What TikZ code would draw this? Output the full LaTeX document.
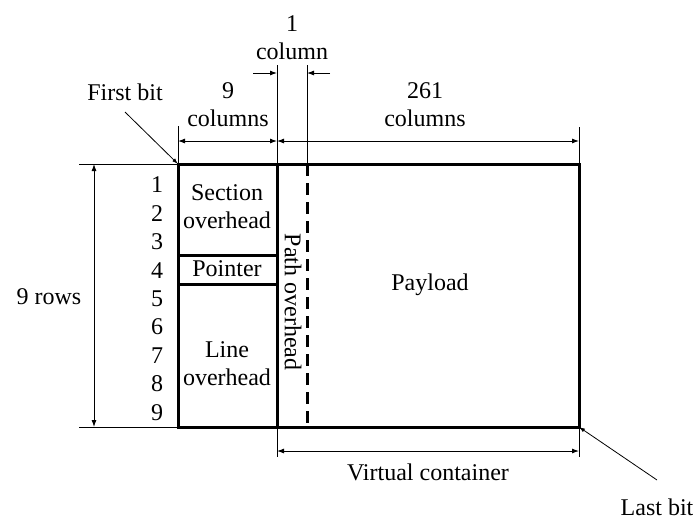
\documentclass[tikz,border=0pt]{standalone}
\usepackage{fontspec}
\setmainfont{Liberation Serif}
\usetikzlibrary{arrows.meta}
\begin{document}
\begin{tikzpicture}[x=1pt,y=-1pt,
 thickline/.style={line width=3pt},
 thinline/.style={line width=0.9pt},
 tip/.style={line width=0.9pt,-{Latex[length=7pt,width=5pt]}},
 dim/.style={line width=0.9pt,{Latex[length=7pt,width=5pt]}-{Latex[length=7pt,width=5pt]}},
 lbl/.style={font=\fontsize{24}{28}\selectfont,align=center,inner sep=0pt}]
\useasboundingbox (0,0) rectangle (693,520);
% frame coordinates
\coordinate (tl) at (178,164);
\coordinate (tr) at (579,164);
\coordinate (bl) at (178,427);
\coordinate (br) at (579,427);
\coordinate (mt) at (277,164);
\coordinate (mb) at (277,427);
\coordinate (dt) at (307,164);
\coordinate (db) at (307,427);
\coordinate (p1l) at (178,255);
\coordinate (p1r) at (277,255);
\coordinate (p2l) at (178,284);
\coordinate (p2r) at (277,284);
% extension line ends
\coordinate (etl) at (79,164);
\coordinate (ebl) at (79,427);
\coordinate (e178) at (178,126);
\coordinate (e277t) at (277,65);
\coordinate (e307t) at (307,65);
\coordinate (e579t) at (579,127);
\coordinate (e277b) at (277,457);
\coordinate (e579b) at (579,457);
% extension lines
\draw[thinline] (etl) -- (tl);
\draw[thinline] (ebl) -- (bl);
\draw[thinline] (e178) -- (tl);
\draw[thinline] (e277t) -- (mt);
\draw[thinline] (e307t) -- (dt);
\draw[thinline] (e579t) -- (tr);
\draw[thinline] (mb) -- (e277b);
\draw[thinline] (br) -- (e579b);
% frame
\draw[thickline] (tl) rectangle (br);
\draw[thickline] (mt) -- (mb);
\draw[thickline] (p1l) -- (p1r);
\draw[thickline] (p2l) -- (p2r);
\draw[thickline,dash pattern=on 12pt off 7pt] (dt) -- (db);
% dimension arrows
\coordinate (d9a) at (178,141);
\coordinate (d9b) at (277,141);
\coordinate (d261a) at (277,141);
\coordinate (d261b) at (579,141);
\coordinate (c1a) at (253,73);
\coordinate (c1b) at (277,73);
\coordinate (c1c) at (330,73);
\coordinate (c1d) at (307,73);
\coordinate (vca) at (277,451);
\coordinate (vcb) at (579,451);
\coordinate (r9a) at (94,164);
\coordinate (r9b) at (94,427);
\draw[dim] (d9a) -- (d9b);
\draw[dim] (d261a) -- (d261b);
\draw[tip] (c1a) -- (c1b);
\draw[tip] (c1c) -- (c1d);
\draw[dim] (vca) -- (vcb);
\draw[dim] (r9a) -- (r9b);
% labels
\node[lbl] (onecol) at (292,38) {1\\column};
\node[lbl] (ninecol) at (228,105) {9\\columns};
\node[lbl] (twosixone) at (425,105) {261\\columns};
\node[lbl] (firstbit) at (125,92) {First bit};
\node[lbl] (rows) at (49,297) {9 rows};
\node[lbl] (vc) at (428,472) {Virtual container};
\node[lbl] (lastbit) at (657,507) {Last bit};
\node[lbl] (secoh) at (227,207) {Section\\overhead};
\node[lbl] (pointer) at (227,269) {Pointer};
\node[lbl] (lineoh) at (227,364) {Line\\overhead};
\node[lbl,rotate=-90] (pathoh) at (293,302) {Path overhead};
\node[lbl] (payload) at (430,285) {Payload};
\foreach \i in {1,...,9}{
  \node[lbl] (n\i) at (157,{185+(\i-1)*28.4}) {\i};
}
% bit pointers
\coordinate (fbs) at (125,112);
\coordinate (lbs) at (657,480);
\draw[line width=0.8pt,-{Latex[length=6pt,width=4pt]}] (fbs) -- (tl);
\draw[line width=0.8pt,-{Latex[length=6pt,width=4pt]}] (lbs) -- (br);
\end{tikzpicture}
\end{document}
